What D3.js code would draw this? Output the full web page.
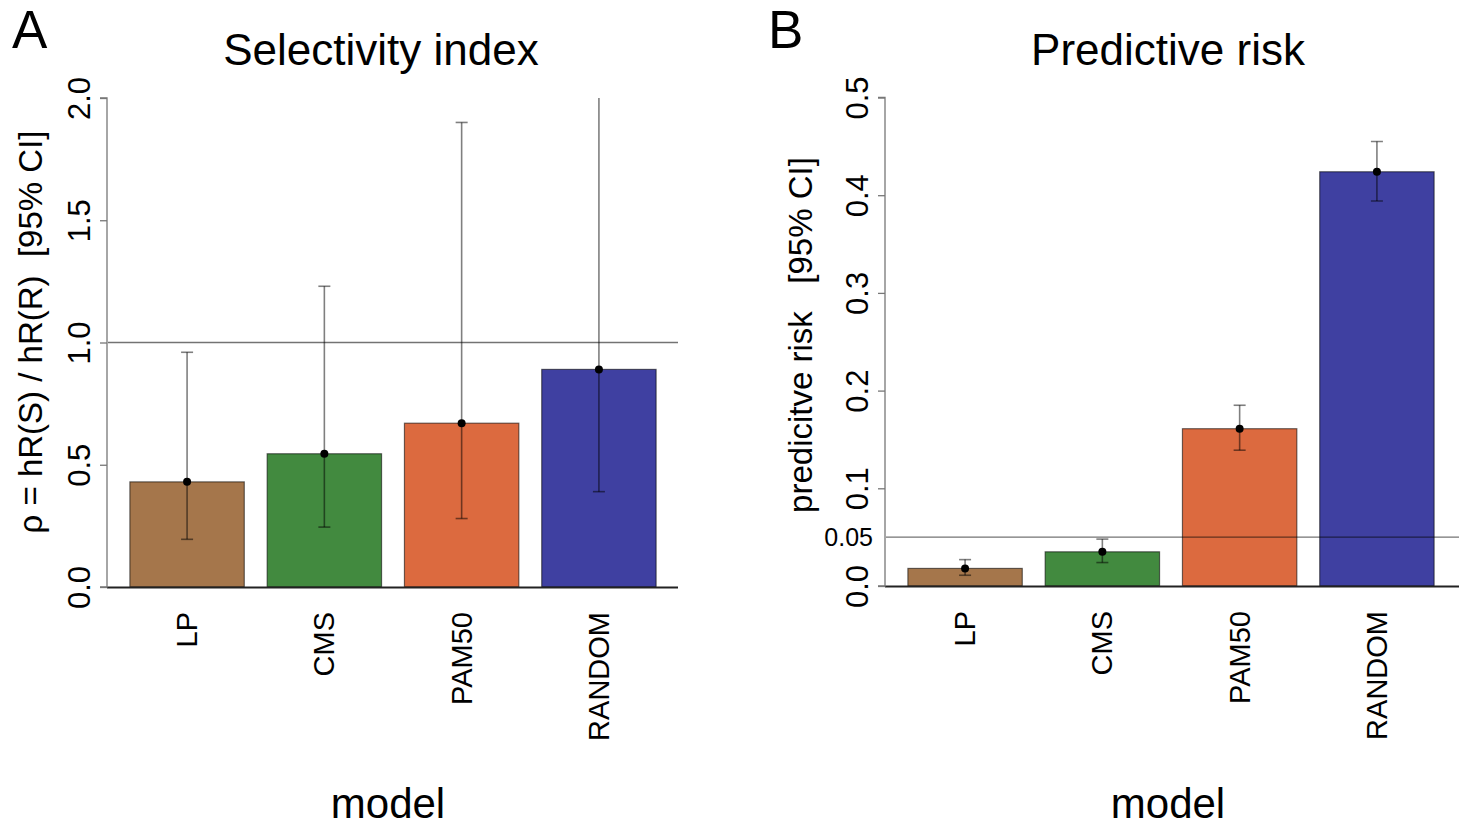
<!DOCTYPE html>
<html>
<head>
<meta charset="utf-8">
<script src="https://cdn.jsdelivr.net/npm/d3@7"></script>
<style>
  body { margin: 0; background: #fff; }
  svg { display: block; font-family: "Liberation Sans", Arial, Helvetica, sans-serif; }
</style>
</head>
<body>
<svg id="chart" width="1459" height="827"></svg>
<script>
// ---- data ----
const categories = ["LP", "CMS", "PAM50", "RANDOM"];
const barColors = ["#A5764B", "#428A3F", "#DC6A3F", "#3F40A1"];

// Panel A: selectivity index
const selValues = [0.43, 0.545, 0.67, 0.89];
const selLower  = [0.195, 0.245, 0.28, 0.39];
const selUpper  = [0.96, 1.23, 1.90, 2.30];
const selTicks  = [0, 0.5, 1.0, 1.5, 2.0];
const selRef    = 1.0;

// Panel B: predictive risk
const riskValues = [0.018, 0.035, 0.161, 0.424];
const riskLower  = [0.011, 0.024, 0.139, 0.394];
const riskUpper  = [0.027, 0.048, 0.185, 0.455];
const riskTicks  = [0, 0.1, 0.2, 0.3, 0.4, 0.5];
const riskRef    = 0.05;

const svg = d3.select("#chart");

function panel(opts) {
  const g = svg.append("g");
  const x = d3.scaleLinear().domain([0, 5]).range([opts.x0, opts.x0 + 572]);
  const y = d3.scaleLinear().domain(opts.ydomain).range([opts.yBottom, opts.yTop]);
  const barW = 1, space = 0.2;
  const bx = i => space + i * (barW + space);

  const clipId = "clip" + opts.id;
  svg.append("clipPath").attr("id", clipId)
    .append("rect").attr("x", opts.x0 - 5).attr("y", opts.yTop)
    .attr("width", 600).attr("height", opts.yBottom - opts.yTop + 10);

  // bars
  g.selectAll("rect.bar").data(opts.values).join("rect")
    .attr("class", "bar")
    .attr("x", (d, i) => x(bx(i)))
    .attr("width", x(barW) - x(0))
    .attr("y", d => y(d))
    .attr("height", d => y(0) - y(d))
    .attr("fill", (d, i) => barColors[i])
    .attr("stroke", "rgba(0,0,0,0.55)")
    .attr("stroke-width", 1.2);

  // reference line
  g.append("line")
    .attr("x1", opts.x0 + 1).attr("x2", opts.xEnd)
    .attr("y1", y(opts.ref)).attr("y2", y(opts.ref))
    .attr("stroke", "rgba(0,0,0,0.55)").attr("stroke-width", 1.3);

  // baseline
  g.append("line")
    .attr("x1", opts.x0).attr("x2", opts.xEnd)
    .attr("y1", y(0) + 0.5).attr("y2", y(0) + 0.5)
    .attr("stroke", "#222").attr("stroke-width", 2);

  // error bars
  const eb = g.append("g").attr("clip-path", `url(#${clipId})`);
  const cx = i => x(bx(i) + barW / 2);
  opts.values.forEach((v, i) => {
    const lo = opts.lower[i], hi = opts.upper[i];
    eb.append("line").attr("x1", cx(i)).attr("x2", cx(i))
      .attr("y1", y(lo)).attr("y2", y(hi))
      .attr("stroke", "rgba(0,0,0,0.5)").attr("stroke-width", 1.6);
    [lo, hi].forEach(e => {
      if (e <= opts.ydomain[1]) {
        eb.append("line").attr("x1", cx(i) - 6).attr("x2", cx(i) + 6)
          .attr("y1", y(e)).attr("y2", y(e))
          .attr("stroke", "rgba(0,0,0,0.5)").attr("stroke-width", 1.6);
      }
    });
    eb.append("circle").attr("cx", cx(i)).attr("cy", y(v)).attr("r", 4).attr("fill", "#000");
  });

  // y axis
  const axis = g.append("g").attr("transform", `translate(${opts.x0},0)`)
    .call(d3.axisLeft(y).tickValues(opts.ticks).tickSize(7).tickFormat(d3.format(".1f")));
  axis.select(".domain").attr("stroke", "#777").attr("stroke-width", 1.3)
    .attr("d", `M-7,${y(opts.ydomain[1])}H0V${y(0)}H-7`);
  axis.selectAll(".tick line").attr("stroke", "#777").attr("stroke-width", 1.3);
  axis.selectAll(".tick text")
    .attr("font-size", 31).attr("fill", "#000")
    .attr("x", 0).attr("dy", 0)
    .attr("text-anchor", "middle")
    .attr("dominant-baseline", "central")
    .attr("transform", "translate(-28,0) rotate(-90)");

  // extra ref label (panel B)
  if (opts.refLabel) {
    g.append("text").attr("x", opts.x0 - 12).attr("y", y(opts.ref))
      .attr("text-anchor", "end").attr("dominant-baseline", "central")
      .attr("font-size", 25).text(opts.refLabel);
  }

  // category labels
  g.selectAll("text.cat").data(categories).join("text")
    .attr("class", "cat")
    .attr("transform", (d, i) => `translate(${cx(i)},${opts.yBottom + 25}) rotate(-90)`)
    .attr("text-anchor", "end").attr("dominant-baseline", "central")
    .attr("font-size", 29).text(d => d);

  // title
  g.append("text").attr("x", opts.titleX).attr("y", 65)
    .attr("text-anchor", "middle").attr("font-size", 44).text(opts.title);

  // panel letter
  g.append("text").attr("x", opts.letterX).attr("y", 48)
    .attr("font-size", 53).text(opts.letter);

  // x label
  g.append("text").attr("x", opts.modelX).attr("y", 818)
    .attr("text-anchor", "middle").attr("font-size", 42).text("model");

  // y label
  g.append("text")
    .attr("transform", `translate(${opts.ylabX},${opts.ylabY}) rotate(-90)`)
    .attr("text-anchor", "middle").attr("dominant-baseline", "central")
    .attr("font-size", opts.ylabSize).style("white-space", "pre").attr("xml:space", "preserve")
    .text(opts.ylabel);
}

panel({
  id: "A", x0: 107, xEnd: 678, yTop: 98, yBottom: 587,
  ydomain: [0, 2], values: selValues, lower: selLower, upper: selUpper,
  ticks: selTicks, ref: selRef,
  title: "Selectivity index", titleX: 381, letter: "A", letterX: 12, modelX: 388,
  ylabel: "ρ = hR(S) / hR(R)  [95% CI]", ylabX: 30, ylabY: 332, ylabSize: 33
});

panel({
  id: "B", x0: 885, xEnd: 1459, yTop: 97.5, yBottom: 586,
  ydomain: [0, 0.5], values: riskValues, lower: riskLower, upper: riskUpper,
  ticks: riskTicks, ref: riskRef, refLabel: "0.05",
  title: "Predictive risk", titleX: 1168, letter: "B", letterX: 768, modelX: 1168,
  ylabel: "predicitve risk   [95% CI]", ylabX: 800, ylabY: 335, ylabSize: 33
});
</script>
</body>
</html>
